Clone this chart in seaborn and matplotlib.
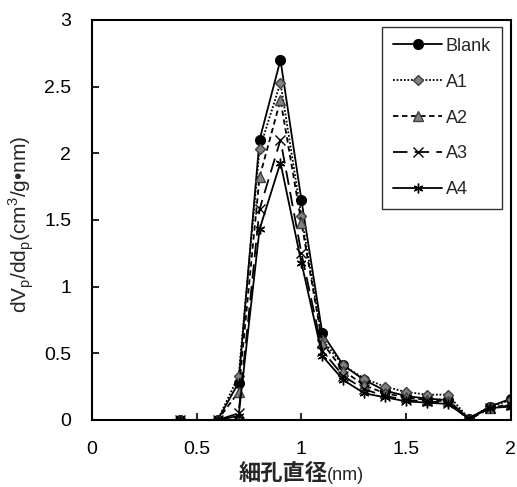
import matplotlib
matplotlib.use("Agg")
import matplotlib.pyplot as plt
import seaborn as sns
import pandas as pd
from matplotlib.offsetbox import TextArea, HPacker, AnchoredOffsetbox

# ---- data ----
pore_diameter = [0.42, 0.6, 0.7, 0.8, 0.9, 1.0, 1.1, 1.2, 1.3, 1.4, 1.5, 1.6, 1.7, 1.8, 1.9, 2.0]
blank = [0, 0, 0.28, 2.10, 2.70, 1.65, 0.65, 0.41, 0.30, 0.22, 0.18, 0.16, 0.15, 0.01, 0.10, 0.16]
a1 = [0, 0, 0.33, 2.03, 2.53, 1.53, 0.60, 0.41, 0.31, 0.25, 0.21, 0.19, 0.19, 0.01, 0.10, 0.15]
a2 = [0, 0, 0.21, 1.82, 2.40, 1.48, 0.58, 0.37, 0.26, 0.20, 0.17, 0.15, 0.14, 0.00, 0.09, 0.12]
a3 = [0, 0, 0.05, 1.58, 2.10, 1.25, 0.52, 0.33, 0.23, 0.18, 0.15, 0.14, 0.13, 0.01, 0.09, 0.11]
a4 = [0, 0, 0.03, 1.43, 1.93, 1.18, 0.48, 0.30, 0.20, 0.17, 0.14, 0.13, 0.12, 0.01, 0.09, 0.10]
series_names = ["Blank", "A1", "A2", "A3", "A4"]
series_values = [blank, a1, a2, a3, a4]
x_ticks = [0, 0.5, 1, 1.5, 2]
x_tick_labels = ["0", "0.5", "1", "1.5", "2"]
y_ticks = [0, 0.5, 1, 1.5, 2, 2.5, 3]
y_tick_labels = ["0", "0.5", "1", "1.5", "2", "2.5", "3"]

sns.set_style("ticks")
plt.rcParams["font.family"] = ["Liberation Sans", "DejaVu Sans"]
plt.rcParams["mathtext.fontset"] = "custom"
plt.rcParams["mathtext.rm"] = "Liberation Sans"

fig = plt.figure(figsize=(5.17, 4.87), dpi=100)
ax = fig.add_axes([0.178, 0.1376, 0.81, 0.8214])

styles = [
    dict(marker="o", linestyle="-", markerfacecolor="black", markeredgecolor="black", markersize=7),
    dict(marker="D", linestyle=(0, (1, 1)), markerfacecolor="#808080", markeredgecolor="#404040", markersize=5.5),
    dict(marker="^", linestyle=(0, (3, 2)), markerfacecolor="#808080", markeredgecolor="#404040", markersize=6.5),
    dict(marker="x", linestyle=(0, (8, 4)), markerfacecolor="black", markeredgecolor="black", markersize=6.5),
    dict(marker=(6, 2, 0), linestyle="-", markerfacecolor="black", markeredgecolor="black", markersize=7),
]

for name, vals, st in zip(series_names, series_values, styles):
    df = pd.DataFrame({"x": pore_diameter, "y": vals})
    sns.lineplot(data=df, x="x", y="y", ax=ax, color="black", linewidth=1.3,
                 label=name, markeredgewidth=1.0, **st)

ax.set_xlim(0, 2)
ax.set_ylim(0, 3)
ax.set_xticks(x_ticks)
ax.set_xticklabels(x_tick_labels)
ax.set_yticks(y_ticks)
ax.set_yticklabels(y_tick_labels)
ax.tick_params(direction="in", length=5, width=1.2, labelsize=14, colors="black", pad=15)
for sp in ax.spines.values():
    sp.set_visible(True)
    sp.set_color("black")
    sp.set_linewidth(1.5)

ax.set_xlabel("")
ax.set_ylabel(r"dV$_\mathregular{p}$/dd$_\mathregular{p}$(cm$^\mathregular{3}$/g•nm)", fontsize=15)
ax.yaxis.set_label_coords(-0.133, 0.49)

# x label: bold CJK + regular (nm)
t1 = TextArea("細孔直径", textprops=dict(fontsize=16, fontweight="bold",
                                         family=["Noto Sans CJK JP", "DejaVu Sans"]))
t2 = TextArea("(nm)", textprops=dict(fontsize=13, family=["Liberation Sans", "DejaVu Sans"]))
pack = HPacker(children=[t1, t2], align="baseline", pad=0, sep=0)
anch = AnchoredOffsetbox(loc="upper center", child=pack, pad=0, frameon=False,
                         bbox_to_anchor=(0.5, -0.105), bbox_transform=ax.transAxes, borderpad=0)
ax.add_artist(anch)

leg = ax.legend(loc="upper right", bbox_to_anchor=(0.978, 0.983), borderaxespad=0,
                frameon=True, fancybox=False, edgecolor="black", fontsize=13,
                handlelength=2.7, labelspacing=1.05, handletextpad=0.2, borderpad=0.6)
leg.get_frame().set_linewidth(1.0)

fig.savefig("out.png", dpi=100)
